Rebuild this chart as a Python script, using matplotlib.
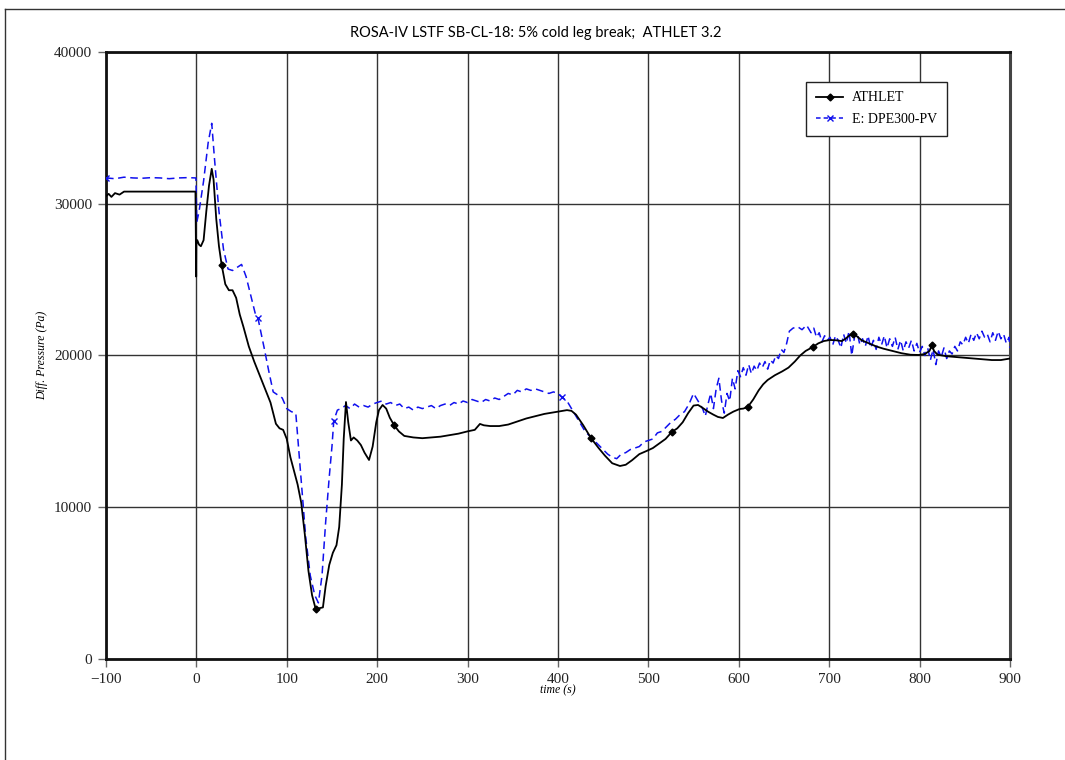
import numpy as np
import matplotlib.pyplot as plt
from matplotlib.lines import Line2D

# ATHLET calculation (black)
t_athlet = [-100, -97, -94, -90, -85, -80, -60, -40, -20, -1, -0.2, 0, 1, 3, 5, 8, 11, 14, 17, 19,
            22, 25, 28, 32, 36, 40, 44, 48, 52, 58, 64, 70, 76, 82, 88, 92, 96, 100, 104, 108,
            112, 116, 120, 124, 128, 132, 136, 140, 143, 147, 151, 155, 158, 161, 163, 165.5,
            168, 171, 174, 178, 182, 186, 191, 195, 199, 202, 206, 210, 214, 218.6, 224, 230,
            240, 250, 260, 270, 280, 290, 300, 308, 313.7, 318, 325, 335, 345, 355, 365, 375,
            385, 395, 405, 410, 415, 420, 428, 436.5, 445, 452, 460, 468.6, 475, 482, 490, 498,
            505, 512, 519, 526, 532, 538, 544, 550, 555, 560, 566, 572, 577, 582.5, 588, 594,
            601, 605, 610, 616, 622, 627, 632, 640, 648, 655, 662, 668, 674, 682, 688, 694, 701,
            708, 714, 718, 722, 726, 730, 736, 744, 752, 760, 770, 780, 790, 799, 806, 811,
            813.7, 816, 820, 830, 840, 850, 860, 870, 880, 890, 900]
p_athlet = [30500, 30650, 30450, 30700, 30600, 30800, 30800, 30800, 30800, 30800, 25200, 27300,
            27600, 27300, 27200, 27600, 29500, 31200, 32300, 31600, 29000, 27200, 25965, 24700,
            24300, 24300, 23800, 22700, 21900, 20600, 19600, 18700, 17800, 16900, 15500, 15200,
            15100, 14500, 13300, 12400, 11500, 10300, 8200, 5800, 4200, 3295, 3350, 3400, 4800,
            6200, 7000, 7500, 8700, 11500, 14500, 16936, 15600, 14400, 14600, 14400, 14100, 13600,
            13114, 14000, 15600, 16400, 16739, 16500, 15900, 15420, 15000, 14700, 14600, 14550,
            14600, 14650, 14750, 14850, 15000, 15100, 15490, 15400, 15350, 15350, 15450, 15650,
            15850, 16000, 16150, 16250, 16350, 16400, 16350, 16100, 15400, 14563, 13900, 13400,
            12900, 12718, 12800, 13100, 13500, 13707, 13900, 14200, 14500, 14960, 15200, 15600,
            16200, 16700, 16739, 16550, 16300, 16100, 15950, 15882, 16100, 16300, 16475, 16500,
            16607, 17100, 17700, 18100, 18386, 18700, 18950, 19200, 19600, 20000, 20300, 20561,
            20800, 20950, 21022, 21000, 20950, 21100, 21300, 21417, 21300, 21000, 20800, 20600,
            20450, 20300, 20150, 20050, 20034, 20100, 20300, 20700, 20300, 20050, 19950, 19900,
            19850, 19800, 19750, 19700, 19700, 19800]
athlet_marks = [28, 132, 218.6, 436.5, 526, 610, 682, 726, 813.7]

# experiment DPE300-PV (blue)
t_exp = [-100, -90, -80, -70, -60, -50, -40, -30, -20, -10, -0.5, 0.5, 3, 8, 13, 17, 20, 25, 30,
         35, 40, 45, 50, 55, 60, 65, 68, 75, 80, 85, 90, 95, 100, 105, 110, 113, 117, 121, 126,
         131, 135, 139, 143, 147, 150, 152, 156, 160, 165, 170, 175, 180, 185, 190, 195, 200, 205,
         210, 215, 220, 225, 230, 235, 240, 245, 250, 255, 260, 265, 270, 275, 280, 285, 290, 295,
         300, 305, 310, 315, 320, 325, 330, 335, 340, 345, 350, 355, 360, 365, 370, 375, 380, 385,
         390, 395, 400, 404, 410, 415, 420, 425, 430, 435, 440, 445, 450, 455, 460, 465, 470, 475,
         480, 485, 490, 495, 500, 505, 510, 515, 520, 525, 530, 535, 540, 545, 550, 555, 560, 563,
         566, 569, 572, 575, 578, 581, 584, 587, 590, 593, 596, 599, 602, 605, 608, 611, 614, 617,
         620, 623, 626, 629, 632, 635, 638, 641, 644, 647, 650, 653, 656, 660, 665, 670, 675, 680,
         683, 686, 689, 692, 695, 698, 701, 704, 707, 710, 713, 716, 719, 722, 725, 728, 731, 734,
         737, 740, 743, 746, 749, 752, 755, 758, 761, 764, 767, 770, 773, 776, 779, 782, 785, 788,
         791, 794, 797, 800, 803, 806, 809, 812, 815, 818, 821, 824, 827, 830, 833, 836, 839, 842,
         845, 848, 851, 854, 857, 860, 863, 866, 869, 872, 875, 878, 881, 884, 887, 890, 893, 896,
         899, 900]
p_exp = [31700, 31650, 31750, 31700, 31680, 31720, 31700, 31650, 31700, 31720, 31700, 28800,
         29500, 31500, 34000, 35300, 33000, 29500, 27000, 25700, 25600, 25800, 26000, 25200,
         24000, 22800, 22500, 20500, 19000, 17600, 17400, 17200, 16500, 16300, 16200, 14000,
         11000, 8000, 5500, 4200, 3700, 5500, 9000, 12000, 14000, 15700, 16400, 16500, 16700,
         16500, 16800, 16600, 16700, 16600, 16800, 16900, 17000, 16800, 16900, 16700, 16800,
         16500, 16600, 16400, 16600, 16500, 16600, 16700, 16500, 16700, 16800, 16700, 16900,
         16800, 17000, 16900, 17100, 17000, 16900, 17100, 17000, 17200, 17100, 17300, 17500,
         17400, 17700, 17600, 17800, 17700, 17800, 17700, 17600, 17500, 17600, 17500, 17266,
         17000, 16500, 16000, 15500, 15000, 14700, 14400, 14100, 13800, 13500, 13300, 13200,
         13500, 13600, 13800, 13900, 14000, 14300, 14400, 14500, 14900, 15000, 15300, 15600,
         15800, 16100, 16300, 16800, 17500, 17000, 16500, 16000, 16800, 17500, 16500, 17800,
         18500, 17000, 16200, 17500, 17000, 18500, 17800, 19000, 18600, 19200, 18700, 19400,
         18800, 19300, 19000, 19500, 19200, 19600, 19100, 19700, 19500, 20000, 19800, 20400,
         20200, 20800, 21600, 21800, 21900, 21700, 22000, 21500, 21800, 21200, 21500, 20900,
         21300, 21000, 21200, 20700, 21300, 21000, 20500, 21400, 20800, 21600, 20000, 21200,
         21500, 20700, 21100, 20600, 21300, 20500, 21000, 20400, 21200, 20700, 21300, 20500,
         21100, 20600, 21200, 20400, 21000, 20300, 20900, 20500, 21000, 20300, 20800, 20200,
         20600, 20000, 20500, 19700, 20400, 19400, 20300, 19900, 20500, 19800, 20300, 20100,
         20600, 20300, 20900, 20700, 21200, 20800, 21400, 21000, 21500, 21100, 21600, 21200,
         21400, 20900, 21500, 21000, 21600, 21100, 21400, 20800, 21200, 20500]
exp_marks = [-95, 68, 152, 404]

title = "ROSA-IV LSTF SB-CL-18: 5% cold leg break;  ATHLET 3.2"
labels = ["ATHLET", "E: DPE300-PV"]

serif = ["Liberation Serif", "DejaVu Serif"]

fig = plt.figure(figsize=(10.65, 7.6), dpi=100)
ax = fig.add_axes([0.0995, 0.1329, 0.8488, 0.7987])

ax.plot(t_athlet, p_athlet, color="black", lw=1.3, zorder=4)
idx_a = [int(np.argmin(np.abs(np.array(t_athlet) - m))) for m in athlet_marks]
ax.plot(np.array(t_athlet)[idx_a], np.array(p_athlet)[idx_a], "D", color="black", ms=3.5, zorder=5)

ax.plot(t_exp, p_exp, color="#1010ee", lw=1.1, ls=(0, (5, 3)), zorder=3)
idx_e = [int(np.argmin(np.abs(np.array(t_exp) - m))) for m in exp_marks]
ax.plot(np.array(t_exp)[idx_e], np.array(p_exp)[idx_e], "x", color="#1010ee", ms=4, mew=1, zorder=3)

ax.set_xlim(-100, 900)
ax.set_ylim(0, 40000)
ax.set_xticks(np.arange(-100, 901, 100))
ax.set_yticks(np.arange(0, 40001, 10000))
ax.set_xticklabels(["\u2212100"] + [str(v) for v in range(0, 901, 100)])
ax.grid(True, color="#333333", lw=1.0)
ax.set_axisbelow(True)
for side in ["left", "bottom", "top"]:
    ax.spines[side].set_linewidth(2.0)
    ax.spines[side].set_color("#111111")
ax.spines["right"].set_linewidth(2.2)
ax.spines["right"].set_color("#444444")
ax.tick_params(direction="out", length=6, width=1, color="#666666", pad=4, labelsize=11)
for lab in ax.get_xticklabels() + ax.get_yticklabels():
    lab.set_family(serif)
    lab.set_color("#222222")

ax.set_xlabel("time (s)", family=serif, style="italic", fontsize=8.5, labelpad=-1)
ax.text(-0.071, 0.5, "Diff. Pressure (Pa)", transform=ax.transAxes, rotation=90,
        family=serif, style="italic", fontsize=8.5, ha="center", va="center")
fig.text(0.503, 0.957, title, family=["Lato", "DejaVu Sans"], fontsize=10.5,
         ha="center", va="center")

handles = [Line2D([], [], color="black", lw=1.3, marker="D", ms=3.5, markevery=[0, 1]),
           Line2D([], [], color="#1010ee", lw=1.1, ls=(0, (3, 2)), marker="x", ms=4, markevery=[0, 1])]
leg = ax.legend(handles, labels, loc="upper right", bbox_to_anchor=(0.93, 0.951),
                borderaxespad=0, prop={"family": serif, "size": 10}, fancybox=False,
                framealpha=1, edgecolor="#222222", handlelength=2.0, handletextpad=0.6,
                borderpad=0.7, labelspacing=0.6)
leg.get_frame().set_linewidth(1.0)

# page frame
fig.add_artist(Line2D([0.0047, 0.0047], [0.0, 0.988], color="#333333", lw=1.0,
                      transform=fig.transFigure))
fig.add_artist(Line2D([0.0047, 1.0], [0.988, 0.988], color="#333333", lw=1.0,
                      transform=fig.transFigure))

fig.savefig("out.png", dpi=100)
